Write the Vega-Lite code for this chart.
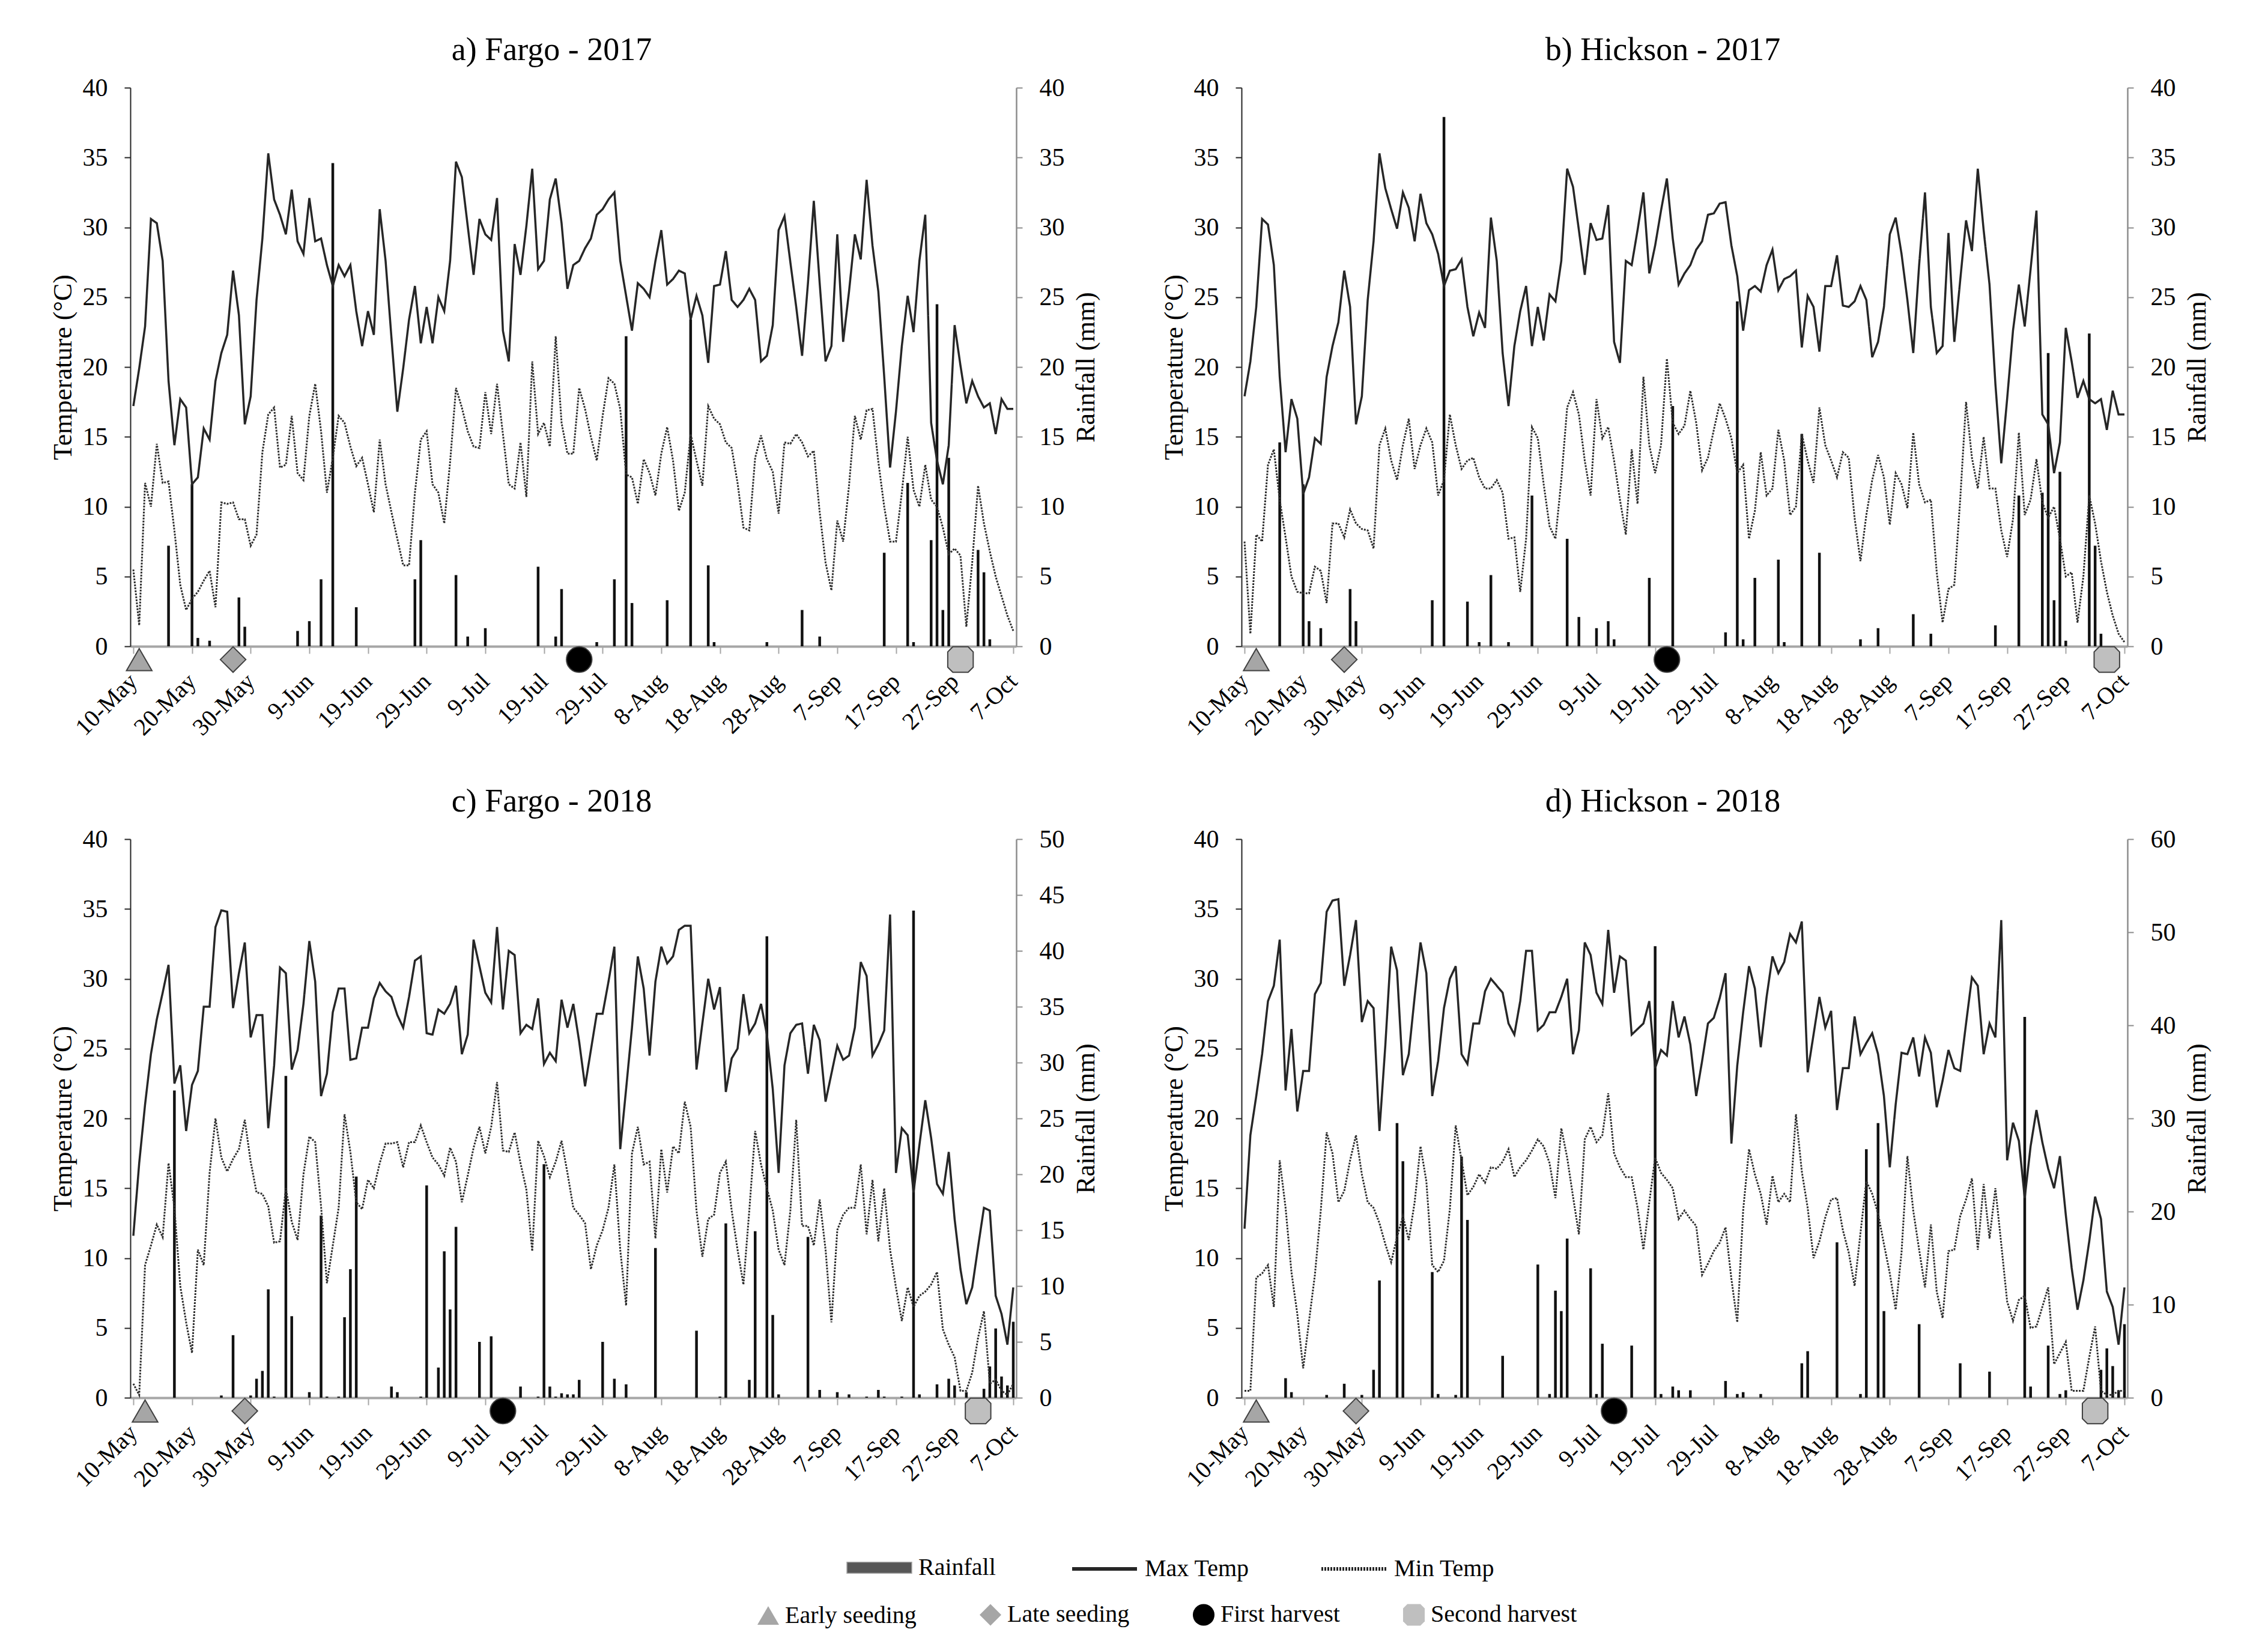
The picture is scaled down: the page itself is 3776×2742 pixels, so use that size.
{
"$schema": "https://vega.github.io/schema/vega-lite/v6.json",
"background": "white",
"padding": {"left": 83, "top": 57, "right": 30, "bottom": 20},
"datasets": {
"ta": [{"d":0,"hi":17.2,"lo":5.5},{"d":1,"hi":19.9,"lo":1.5},{"d":2,"hi":22.9,"lo":11.7},{"d":3,"hi":30.6,"lo":10.0},{"d":4,"hi":30.3,"lo":14.5},{"d":5,"hi":27.6,"lo":11.7},{"d":6,"hi":19.0,"lo":11.8},{"d":7,"hi":14.4,"lo":8.3},{"d":8,"hi":17.7,"lo":4.4},{"d":9,"hi":17.1,"lo":2.6},{"d":10,"hi":11.6,"lo":3.4},{"d":11,"hi":12.1,"lo":3.9},{"d":12,"hi":15.6,"lo":4.7},{"d":13,"hi":14.8,"lo":5.4},{"d":14,"hi":19.0,"lo":2.8},{"d":15,"hi":21.0,"lo":10.3},{"d":16,"hi":22.3,"lo":10.2},{"d":17,"hi":26.9,"lo":10.3},{"d":18,"hi":23.7,"lo":9.1},{"d":19,"hi":15.9,"lo":9.1},{"d":20,"hi":17.9,"lo":7.2},{"d":21,"hi":24.8,"lo":8.0},{"d":22,"hi":29.2,"lo":13.9},{"d":23,"hi":35.3,"lo":16.6},{"d":24,"hi":32.0,"lo":17.1},{"d":25,"hi":30.9,"lo":12.8},{"d":26,"hi":29.5,"lo":13.0},{"d":27,"hi":32.7,"lo":16.5},{"d":28,"hi":29.0,"lo":12.4},{"d":29,"hi":28.1,"lo":11.9},{"d":30,"hi":32.1,"lo":16.5},{"d":31,"hi":29.0,"lo":18.8},{"d":32,"hi":29.2,"lo":15.4},{"d":33,"hi":27.3,"lo":11.0},{"d":34,"hi":25.8,"lo":13.5},{"d":35,"hi":27.3,"lo":16.5},{"d":36,"hi":26.5,"lo":16.0},{"d":37,"hi":27.3,"lo":14.3},{"d":38,"hi":24.0,"lo":12.9},{"d":39,"hi":21.5,"lo":13.5},{"d":40,"hi":24.0,"lo":11.6},{"d":41,"hi":22.3,"lo":9.6},{"d":42,"hi":31.3,"lo":14.8},{"d":43,"hi":27.6,"lo":11.6},{"d":44,"hi":22.1,"lo":9.6},{"d":45,"hi":16.8,"lo":7.7},{"d":46,"hi":19.9,"lo":5.8},{"d":47,"hi":23.4,"lo":5.8},{"d":48,"hi":25.8,"lo":11.0},{"d":49,"hi":21.7,"lo":14.8},{"d":50,"hi":24.3,"lo":15.4},{"d":51,"hi":21.7,"lo":11.6},{"d":52,"hi":25.0,"lo":11.0},{"d":53,"hi":24.0,"lo":8.8},{"d":54,"hi":27.6,"lo":13.2},{"d":55,"hi":34.7,"lo":18.5},{"d":56,"hi":33.6,"lo":17.1},{"d":57,"hi":30.1,"lo":15.4},{"d":58,"hi":26.6,"lo":14.3},{"d":59,"hi":30.6,"lo":14.2},{"d":60,"hi":29.5,"lo":18.2},{"d":61,"hi":29.1,"lo":15.2},{"d":62,"hi":32.1,"lo":18.8},{"d":63,"hi":22.6,"lo":15.2},{"d":64,"hi":20.4,"lo":11.6},{"d":65,"hi":28.8,"lo":11.3},{"d":66,"hi":26.6,"lo":14.6},{"d":67,"hi":30.1,"lo":10.7},{"d":68,"hi":34.2,"lo":20.4},{"d":69,"hi":27.0,"lo":15.2},{"d":70,"hi":27.6,"lo":16.0},{"d":71,"hi":32.0,"lo":14.3},{"d":72,"hi":33.5,"lo":22.2},{"d":73,"hi":30.3,"lo":16.0},{"d":74,"hi":25.6,"lo":13.8},{"d":75,"hi":27.3,"lo":13.8},{"d":76,"hi":27.6,"lo":18.5},{"d":77,"hi":28.5,"lo":17.0},{"d":78,"hi":29.2,"lo":15.0},{"d":79,"hi":30.9,"lo":13.3},{"d":80,"hi":31.3,"lo":16.5},{"d":81,"hi":32.0,"lo":19.2},{"d":82,"hi":32.5,"lo":18.8},{"d":83,"hi":27.6,"lo":17.0},{"d":84,"hi":25.1,"lo":12.3},{"d":85,"hi":22.6,"lo":12.1},{"d":86,"hi":26.0,"lo":10.2},{"d":87,"hi":25.6,"lo":13.4},{"d":88,"hi":25.0,"lo":12.4},{"d":89,"hi":27.6,"lo":10.8},{"d":90,"hi":29.8,"lo":13.8},{"d":91,"hi":25.9,"lo":15.7},{"d":92,"hi":26.3,"lo":13.3},{"d":93,"hi":26.9,"lo":9.7},{"d":94,"hi":26.7,"lo":11.0},{"d":95,"hi":23.4,"lo":15.2},{"d":96,"hi":25.1,"lo":13.3},{"d":97,"hi":23.7,"lo":11.5},{"d":98,"hi":20.3,"lo":17.2},{"d":99,"hi":25.8,"lo":16.3},{"d":100,"hi":25.9,"lo":15.9},{"d":101,"hi":28.3,"lo":14.6},{"d":102,"hi":24.8,"lo":14.2},{"d":103,"hi":24.3,"lo":11.7},{"d":104,"hi":24.8,"lo":8.5},{"d":105,"hi":25.6,"lo":8.3},{"d":106,"hi":24.8,"lo":13.5},{"d":107,"hi":20.4,"lo":15.1},{"d":108,"hi":20.8,"lo":13.4},{"d":109,"hi":23.0,"lo":12.5},{"d":110,"hi":29.8,"lo":9.5},{"d":111,"hi":30.8,"lo":14.6},{"d":112,"hi":27.5,"lo":14.5},{"d":113,"hi":24.3,"lo":15.2},{"d":114,"hi":20.8,"lo":14.6},{"d":115,"hi":26.0,"lo":13.6},{"d":116,"hi":31.9,"lo":14.0},{"d":117,"hi":26.0,"lo":9.6},{"d":118,"hi":20.4,"lo":6.0},{"d":119,"hi":21.5,"lo":4.0},{"d":120,"hi":29.5,"lo":9.0},{"d":121,"hi":21.8,"lo":7.5},{"d":122,"hi":25.4,"lo":11.5},{"d":123,"hi":29.5,"lo":16.5},{"d":124,"hi":27.7,"lo":14.8},{"d":125,"hi":33.4,"lo":16.9},{"d":126,"hi":28.7,"lo":17.0},{"d":127,"hi":25.4,"lo":13.2},{"d":128,"hi":19.3,"lo":10.0},{"d":129,"hi":12.8,"lo":7.5},{"d":130,"hi":16.8,"lo":7.5},{"d":131,"hi":21.5,"lo":11.0},{"d":132,"hi":25.1,"lo":15.0},{"d":133,"hi":22.5,"lo":11.2},{"d":134,"hi":27.6,"lo":10.0},{"d":135,"hi":30.9,"lo":13.0},{"d":136,"hi":16.0,"lo":10.5},{"d":137,"hi":13.3,"lo":10.0},{"d":138,"hi":11.6,"lo":8.5},{"d":139,"hi":14.4,"lo":6.6},{"d":140,"hi":23.0,"lo":7.0},{"d":141,"hi":20.1,"lo":6.5},{"d":142,"hi":17.4,"lo":1.4},{"d":143,"hi":19.0,"lo":6.0},{"d":144,"hi":17.9,"lo":11.5},{"d":145,"hi":17.1,"lo":8.8},{"d":146,"hi":17.4,"lo":6.8},{"d":147,"hi":15.2,"lo":5.0},{"d":148,"hi":17.7,"lo":3.6},{"d":149,"hi":17.0,"lo":2.2},{"d":150,"hi":17.0,"lo":1.1}],
"tb": [{"d":0,"hi":17.9,"lo":7.5},{"d":1,"hi":20.4,"lo":0.9},{"d":2,"hi":24.3,"lo":8.0},{"d":3,"hi":30.6,"lo":7.5},{"d":4,"hi":30.2,"lo":13.0},{"d":5,"hi":27.3,"lo":14.1},{"d":6,"hi":19.3,"lo":10.5},{"d":7,"hi":13.9,"lo":7.8},{"d":8,"hi":17.7,"lo":5.0},{"d":9,"hi":16.3,"lo":3.9},{"d":10,"hi":10.9,"lo":3.8},{"d":11,"hi":12.1,"lo":3.8},{"d":12,"hi":14.9,"lo":5.7},{"d":13,"hi":14.5,"lo":5.4},{"d":14,"hi":19.3,"lo":3.1},{"d":15,"hi":21.5,"lo":8.8},{"d":16,"hi":23.2,"lo":8.8},{"d":17,"hi":26.9,"lo":7.8},{"d":18,"hi":24.3,"lo":9.8},{"d":19,"hi":15.9,"lo":8.8},{"d":20,"hi":17.9,"lo":8.4},{"d":21,"hi":24.8,"lo":8.3},{"d":22,"hi":29.0,"lo":7.0},{"d":23,"hi":35.3,"lo":14.4},{"d":24,"hi":32.8,"lo":15.6},{"d":25,"hi":31.3,"lo":13.3},{"d":26,"hi":29.9,"lo":11.9},{"d":27,"hi":32.5,"lo":14.4},{"d":28,"hi":31.4,"lo":16.3},{"d":29,"hi":29.0,"lo":12.7},{"d":30,"hi":32.4,"lo":14.4},{"d":31,"hi":30.3,"lo":15.6},{"d":32,"hi":29.5,"lo":14.6},{"d":33,"hi":28.1,"lo":10.8},{"d":34,"hi":25.8,"lo":11.9},{"d":35,"hi":26.9,"lo":16.6},{"d":36,"hi":27.0,"lo":14.4},{"d":37,"hi":27.7,"lo":12.7},{"d":38,"hi":24.3,"lo":13.3},{"d":39,"hi":22.2,"lo":13.5},{"d":40,"hi":23.9,"lo":12.1},{"d":41,"hi":22.8,"lo":11.3},{"d":42,"hi":30.7,"lo":11.3},{"d":43,"hi":27.6,"lo":11.9},{"d":44,"hi":21.0,"lo":11.0},{"d":45,"hi":17.2,"lo":7.7},{"d":46,"hi":21.5,"lo":7.8},{"d":47,"hi":24.0,"lo":3.9},{"d":48,"hi":25.8,"lo":7.7},{"d":49,"hi":21.5,"lo":15.7},{"d":50,"hi":24.3,"lo":14.9},{"d":51,"hi":21.9,"lo":11.6},{"d":52,"hi":25.2,"lo":8.6},{"d":53,"hi":24.7,"lo":7.7},{"d":54,"hi":27.6,"lo":11.9},{"d":55,"hi":34.2,"lo":17.1},{"d":56,"hi":32.9,"lo":18.2},{"d":57,"hi":29.8,"lo":16.6},{"d":58,"hi":26.6,"lo":13.3},{"d":59,"hi":30.3,"lo":10.8},{"d":60,"hi":29.1,"lo":17.7},{"d":61,"hi":29.2,"lo":14.9},{"d":62,"hi":31.6,"lo":15.7},{"d":63,"hi":21.8,"lo":13.3},{"d":64,"hi":20.3,"lo":10.5},{"d":65,"hi":27.6,"lo":8.0},{"d":66,"hi":27.3,"lo":14.1},{"d":67,"hi":29.8,"lo":10.2},{"d":68,"hi":32.5,"lo":19.3},{"d":69,"hi":26.7,"lo":14.4},{"d":70,"hi":28.7,"lo":12.4},{"d":71,"hi":31.2,"lo":14.4},{"d":72,"hi":33.5,"lo":20.6},{"d":73,"hi":29.2,"lo":16.0},{"d":74,"hi":25.9,"lo":15.2},{"d":75,"hi":26.7,"lo":15.8},{"d":76,"hi":27.3,"lo":18.3},{"d":77,"hi":28.4,"lo":16.0},{"d":78,"hi":29.0,"lo":12.6},{"d":79,"hi":30.9,"lo":13.5},{"d":80,"hi":31.0,"lo":15.5},{"d":81,"hi":31.7,"lo":17.4},{"d":82,"hi":31.8,"lo":16.3},{"d":83,"hi":28.7,"lo":14.9},{"d":84,"hi":26.5,"lo":12.4},{"d":85,"hi":22.6,"lo":13.0},{"d":86,"hi":25.5,"lo":7.7},{"d":87,"hi":25.8,"lo":9.7},{"d":88,"hi":25.4,"lo":13.9},{"d":89,"hi":27.3,"lo":10.8},{"d":90,"hi":28.4,"lo":11.3},{"d":91,"hi":25.5,"lo":15.5},{"d":92,"hi":26.3,"lo":13.3},{"d":93,"hi":26.5,"lo":9.4},{"d":94,"hi":26.9,"lo":10.0},{"d":95,"hi":21.4,"lo":15.2},{"d":96,"hi":25.1,"lo":13.3},{"d":97,"hi":24.3,"lo":11.7},{"d":98,"hi":21.1,"lo":17.1},{"d":99,"hi":25.8,"lo":14.4},{"d":100,"hi":25.8,"lo":13.3},{"d":101,"hi":28.0,"lo":12.1},{"d":102,"hi":24.4,"lo":13.9},{"d":103,"hi":24.3,"lo":13.5},{"d":104,"hi":24.7,"lo":9.2},{"d":105,"hi":25.8,"lo":6.1},{"d":106,"hi":24.8,"lo":9.4},{"d":107,"hi":20.7,"lo":11.9},{"d":108,"hi":21.8,"lo":13.7},{"d":109,"hi":24.3,"lo":12.1},{"d":110,"hi":29.5,"lo":8.7},{"d":111,"hi":30.7,"lo":12.4},{"d":112,"hi":28.1,"lo":11.6},{"d":113,"hi":24.8,"lo":9.9},{"d":114,"hi":21.0,"lo":15.3},{"d":115,"hi":27.3,"lo":11.6},{"d":116,"hi":32.5,"lo":10.3},{"d":117,"hi":24.3,"lo":10.5},{"d":118,"hi":21.0,"lo":5.3},{"d":119,"hi":21.5,"lo":1.7},{"d":120,"hi":29.6,"lo":4.1},{"d":121,"hi":21.8,"lo":4.4},{"d":122,"hi":26.2,"lo":10.5},{"d":123,"hi":30.5,"lo":17.5},{"d":124,"hi":28.3,"lo":13.5},{"d":125,"hi":34.2,"lo":11.3},{"d":126,"hi":29.8,"lo":15.0},{"d":127,"hi":25.9,"lo":11.3},{"d":128,"hi":18.8,"lo":11.3},{"d":129,"hi":13.1,"lo":8.3},{"d":130,"hi":17.7,"lo":6.4},{"d":131,"hi":22.6,"lo":9.1},{"d":132,"hi":25.9,"lo":15.3},{"d":133,"hi":22.9,"lo":9.4},{"d":134,"hi":27.0,"lo":10.5},{"d":135,"hi":31.2,"lo":13.4},{"d":136,"hi":16.6,"lo":10.3},{"d":137,"hi":15.9,"lo":9.2},{"d":138,"hi":12.4,"lo":10.0},{"d":139,"hi":14.6,"lo":7.7},{"d":140,"hi":22.8,"lo":5.0},{"d":141,"hi":20.4,"lo":5.3},{"d":142,"hi":17.8,"lo":1.7},{"d":143,"hi":19.0,"lo":5.0},{"d":144,"hi":17.7,"lo":10.8},{"d":145,"hi":17.4,"lo":8.8},{"d":146,"hi":17.7,"lo":6.1},{"d":147,"hi":15.5,"lo":3.9},{"d":148,"hi":18.3,"lo":2.2},{"d":149,"hi":16.6,"lo":0.9},{"d":150,"hi":16.6,"lo":0.3}],
"tc": [{"d":0,"hi":11.6,"lo":1.0},{"d":1,"hi":16.8,"lo":0.2},{"d":2,"hi":21.0,"lo":9.5},{"d":3,"hi":24.6,"lo":10.9},{"d":4,"hi":27.1,"lo":12.4},{"d":5,"hi":29.0,"lo":11.5},{"d":6,"hi":31.0,"lo":16.8},{"d":7,"hi":22.5,"lo":13.6},{"d":8,"hi":23.8,"lo":8.0},{"d":9,"hi":19.1,"lo":5.4},{"d":10,"hi":22.4,"lo":3.2},{"d":11,"hi":23.4,"lo":10.6},{"d":12,"hi":28.0,"lo":9.5},{"d":13,"hi":28.0,"lo":16.1},{"d":14,"hi":33.7,"lo":20.0},{"d":15,"hi":34.9,"lo":17.2},{"d":16,"hi":34.8,"lo":16.2},{"d":17,"hi":27.9,"lo":17.1},{"d":18,"hi":30.4,"lo":17.8},{"d":19,"hi":32.6,"lo":19.9},{"d":20,"hi":25.8,"lo":16.9},{"d":21,"hi":27.4,"lo":14.7},{"d":22,"hi":27.4,"lo":14.6},{"d":23,"hi":19.3,"lo":13.7},{"d":24,"hi":23.8,"lo":11.1},{"d":25,"hi":30.8,"lo":11.2},{"d":26,"hi":30.4,"lo":15.0},{"d":27,"hi":23.5,"lo":12.6},{"d":28,"hi":24.9,"lo":11.3},{"d":29,"hi":28.2,"lo":16.0},{"d":30,"hi":32.7,"lo":18.7},{"d":31,"hi":29.8,"lo":18.3},{"d":32,"hi":21.6,"lo":13.7},{"d":33,"hi":23.2,"lo":8.2},{"d":34,"hi":27.6,"lo":10.9},{"d":35,"hi":29.3,"lo":13.6},{"d":36,"hi":29.3,"lo":20.3},{"d":37,"hi":24.2,"lo":17.6},{"d":38,"hi":24.3,"lo":14.0},{"d":39,"hi":26.5,"lo":13.5},{"d":40,"hi":26.5,"lo":15.6},{"d":41,"hi":28.6,"lo":15.0},{"d":42,"hi":29.7,"lo":16.8},{"d":43,"hi":29.1,"lo":18.2},{"d":44,"hi":28.7,"lo":18.2},{"d":45,"hi":27.4,"lo":18.3},{"d":46,"hi":26.5,"lo":16.5},{"d":47,"hi":28.7,"lo":18.3},{"d":48,"hi":31.3,"lo":18.3},{"d":49,"hi":31.6,"lo":19.5},{"d":50,"hi":26.1,"lo":18.3},{"d":51,"hi":26.0,"lo":17.2},{"d":52,"hi":27.8,"lo":16.7},{"d":53,"hi":27.5,"lo":15.9},{"d":54,"hi":28.2,"lo":17.9},{"d":55,"hi":29.5,"lo":16.9},{"d":56,"hi":24.6,"lo":14.0},{"d":57,"hi":26.0,"lo":15.9},{"d":58,"hi":32.8,"lo":17.9},{"d":59,"hi":30.9,"lo":19.4},{"d":60,"hi":29.0,"lo":17.5},{"d":61,"hi":28.3,"lo":19.4},{"d":62,"hi":33.7,"lo":22.6},{"d":63,"hi":27.8,"lo":17.7},{"d":64,"hi":32.0,"lo":17.6},{"d":65,"hi":31.7,"lo":19.0},{"d":66,"hi":26.1,"lo":16.8},{"d":67,"hi":26.7,"lo":14.9},{"d":68,"hi":26.4,"lo":10.5},{"d":69,"hi":28.6,"lo":18.4},{"d":70,"hi":23.9,"lo":17.3},{"d":71,"hi":24.7,"lo":15.8},{"d":72,"hi":24.1,"lo":16.9},{"d":73,"hi":28.5,"lo":18.4},{"d":74,"hi":26.5,"lo":16.1},{"d":75,"hi":28.2,"lo":13.6},{"d":76,"hi":25.5,"lo":13.1},{"d":77,"hi":22.3,"lo":12.5},{"d":78,"hi":24.9,"lo":9.2},{"d":79,"hi":27.5,"lo":10.9},{"d":80,"hi":27.5,"lo":12.0},{"d":81,"hi":29.8,"lo":13.6},{"d":82,"hi":32.3,"lo":16.7},{"d":83,"hi":17.8,"lo":10.6},{"d":84,"hi":22.1,"lo":6.6},{"d":85,"hi":26.5,"lo":17.5},{"d":86,"hi":31.6,"lo":19.4},{"d":87,"hi":29.3,"lo":16.7},{"d":88,"hi":24.5,"lo":16.9},{"d":89,"hi":29.8,"lo":11.4},{"d":90,"hi":32.3,"lo":17.8},{"d":91,"hi":31.1,"lo":14.7},{"d":92,"hi":31.6,"lo":18.0},{"d":93,"hi":33.5,"lo":17.5},{"d":94,"hi":33.8,"lo":21.2},{"d":95,"hi":33.8,"lo":19.4},{"d":96,"hi":23.5,"lo":13.4},{"d":97,"hi":26.8,"lo":10.1},{"d":98,"hi":30.0,"lo":12.8},{"d":99,"hi":27.8,"lo":13.1},{"d":100,"hi":29.4,"lo":16.1},{"d":101,"hi":21.9,"lo":16.9},{"d":102,"hi":24.3,"lo":13.4},{"d":103,"hi":25.0,"lo":10.6},{"d":104,"hi":28.9,"lo":8.1},{"d":105,"hi":26.1,"lo":13.4},{"d":106,"hi":26.8,"lo":19.1},{"d":107,"hi":28.2,"lo":16.7},{"d":108,"hi":26.0,"lo":15.0},{"d":109,"hi":22.1,"lo":13.4},{"d":110,"hi":16.1,"lo":10.6},{"d":111,"hi":23.8,"lo":9.5},{"d":112,"hi":26.1,"lo":13.4},{"d":113,"hi":26.7,"lo":19.9},{"d":114,"hi":26.8,"lo":12.3},{"d":115,"hi":23.2,"lo":12.3},{"d":116,"hi":26.7,"lo":10.9},{"d":117,"hi":25.6,"lo":14.2},{"d":118,"hi":21.2,"lo":10.6},{"d":119,"hi":23.2,"lo":5.4},{"d":120,"hi":25.2,"lo":12.0},{"d":121,"hi":24.2,"lo":13.1},{"d":122,"hi":24.5,"lo":13.6},{"d":123,"hi":26.5,"lo":13.6},{"d":124,"hi":31.2,"lo":16.7},{"d":125,"hi":30.2,"lo":11.7},{"d":126,"hi":24.5,"lo":15.6},{"d":127,"hi":25.3,"lo":11.2},{"d":128,"hi":26.3,"lo":15.0},{"d":129,"hi":34.6,"lo":10.6},{"d":130,"hi":16.1,"lo":7.9},{"d":131,"hi":19.3,"lo":5.5},{"d":132,"hi":18.8,"lo":7.9},{"d":133,"hi":14.7,"lo":6.5},{"d":134,"hi":18.1,"lo":7.3},{"d":135,"hi":21.3,"lo":7.6},{"d":136,"hi":18.6,"lo":8.1},{"d":137,"hi":15.3,"lo":9.0},{"d":138,"hi":14.6,"lo":4.9},{"d":139,"hi":17.6,"lo":3.8},{"d":140,"hi":12.8,"lo":2.9},{"d":141,"hi":9.2,"lo":0.5},{"d":142,"hi":6.7,"lo":0.5},{"d":143,"hi":7.9,"lo":1.8},{"d":144,"hi":10.8,"lo":4.3},{"d":145,"hi":13.6,"lo":6.2},{"d":146,"hi":13.4,"lo":1.0},{"d":147,"hi":7.3,"lo":1.3},{"d":148,"hi":6.0,"lo":0.5},{"d":149,"hi":3.8,"lo":0.2},{"d":150,"hi":7.9,"lo":1.0}],
"td": [{"d":0,"hi":12.1,"lo":0.5},{"d":1,"hi":18.8,"lo":0.5},{"d":2,"hi":21.6,"lo":8.6},{"d":3,"hi":24.6,"lo":8.9},{"d":4,"hi":28.4,"lo":9.5},{"d":5,"hi":29.5,"lo":6.5},{"d":6,"hi":32.8,"lo":17.0},{"d":7,"hi":22.0,"lo":13.6},{"d":8,"hi":26.4,"lo":9.0},{"d":9,"hi":20.5,"lo":6.0},{"d":10,"hi":23.4,"lo":2.1},{"d":11,"hi":23.4,"lo":5.5},{"d":12,"hi":28.9,"lo":8.8},{"d":13,"hi":29.7,"lo":13.4},{"d":14,"hi":34.8,"lo":19.0},{"d":15,"hi":35.6,"lo":17.5},{"d":16,"hi":35.7,"lo":14.0},{"d":17,"hi":29.5,"lo":14.8},{"d":18,"hi":31.7,"lo":17.0},{"d":19,"hi":34.2,"lo":18.8},{"d":20,"hi":26.9,"lo":16.0},{"d":21,"hi":28.4,"lo":14.0},{"d":22,"hi":27.9,"lo":13.6},{"d":23,"hi":19.1,"lo":12.5},{"d":24,"hi":25.2,"lo":11.0},{"d":25,"hi":32.3,"lo":9.7},{"d":26,"hi":30.6,"lo":11.5},{"d":27,"hi":23.1,"lo":13.0},{"d":28,"hi":24.6,"lo":11.3},{"d":29,"hi":28.7,"lo":14.0},{"d":30,"hi":32.6,"lo":18.0},{"d":31,"hi":30.4,"lo":15.5},{"d":32,"hi":21.6,"lo":9.5},{"d":33,"hi":24.1,"lo":9.0},{"d":34,"hi":27.9,"lo":9.8},{"d":35,"hi":30.0,"lo":13.5},{"d":36,"hi":30.9,"lo":19.5},{"d":37,"hi":24.6,"lo":17.0},{"d":38,"hi":23.9,"lo":14.5},{"d":39,"hi":26.8,"lo":15.1},{"d":40,"hi":26.8,"lo":16.0},{"d":41,"hi":29.1,"lo":15.4},{"d":42,"hi":30.0,"lo":16.5},{"d":43,"hi":29.5,"lo":16.4},{"d":44,"hi":29.0,"lo":16.9},{"d":45,"hi":26.8,"lo":17.8},{"d":46,"hi":26.0,"lo":15.8},{"d":47,"hi":28.4,"lo":16.5},{"d":48,"hi":32.0,"lo":17.0},{"d":49,"hi":32.0,"lo":17.7},{"d":50,"hi":26.3,"lo":18.5},{"d":51,"hi":26.7,"lo":18.0},{"d":52,"hi":27.6,"lo":16.8},{"d":53,"hi":27.6,"lo":14.3},{"d":54,"hi":28.7,"lo":19.3},{"d":55,"hi":30.0,"lo":17.2},{"d":56,"hi":24.6,"lo":14.4},{"d":57,"hi":26.3,"lo":11.7},{"d":58,"hi":32.6,"lo":18.5},{"d":59,"hi":31.7,"lo":19.4},{"d":60,"hi":29.0,"lo":18.3},{"d":61,"hi":28.2,"lo":18.8},{"d":62,"hi":33.5,"lo":21.8},{"d":63,"hi":29.0,"lo":17.5},{"d":64,"hi":31.6,"lo":16.5},{"d":65,"hi":31.3,"lo":15.8},{"d":66,"hi":26.0,"lo":15.8},{"d":67,"hi":26.4,"lo":13.6},{"d":68,"hi":26.8,"lo":10.6},{"d":69,"hi":28.4,"lo":14.0},{"d":70,"hi":23.6,"lo":17.2},{"d":71,"hi":24.9,"lo":16.1},{"d":72,"hi":24.5,"lo":15.6},{"d":73,"hi":28.4,"lo":15.0},{"d":74,"hi":25.8,"lo":12.8},{"d":75,"hi":27.3,"lo":13.4},{"d":76,"hi":25.3,"lo":12.8},{"d":77,"hi":21.6,"lo":12.3},{"d":78,"hi":24.1,"lo":8.8},{"d":79,"hi":26.8,"lo":9.6},{"d":80,"hi":27.2,"lo":10.5},{"d":81,"hi":28.6,"lo":11.1},{"d":82,"hi":30.4,"lo":12.2},{"d":83,"hi":18.2,"lo":8.5},{"d":84,"hi":23.8,"lo":5.4},{"d":85,"hi":27.6,"lo":13.4},{"d":86,"hi":30.9,"lo":17.8},{"d":87,"hi":29.3,"lo":16.0},{"d":88,"hi":25.1,"lo":14.6},{"d":89,"hi":28.7,"lo":12.4},{"d":90,"hi":31.6,"lo":15.9},{"d":91,"hi":30.4,"lo":14.0},{"d":92,"hi":31.2,"lo":14.6},{"d":93,"hi":33.2,"lo":14.0},{"d":94,"hi":32.6,"lo":20.3},{"d":95,"hi":34.1,"lo":16.2},{"d":96,"hi":23.3,"lo":13.6},{"d":97,"hi":26.0,"lo":10.0},{"d":98,"hi":28.7,"lo":11.2},{"d":99,"hi":26.5,"lo":12.9},{"d":100,"hi":27.7,"lo":14.2},{"d":101,"hi":20.6,"lo":14.3},{"d":102,"hi":23.6,"lo":12.0},{"d":103,"hi":23.6,"lo":10.4},{"d":104,"hi":27.3,"lo":8.0},{"d":105,"hi":24.6,"lo":11.8},{"d":106,"hi":25.4,"lo":15.5},{"d":107,"hi":26.1,"lo":14.6},{"d":108,"hi":24.6,"lo":13.2},{"d":109,"hi":21.6,"lo":11.0},{"d":110,"hi":16.5,"lo":8.9},{"d":111,"hi":21.0,"lo":6.3},{"d":112,"hi":24.7,"lo":10.4},{"d":113,"hi":24.6,"lo":17.3},{"d":114,"hi":25.8,"lo":13.4},{"d":115,"hi":23.0,"lo":10.6},{"d":116,"hi":25.8,"lo":7.9},{"d":117,"hi":24.7,"lo":12.4},{"d":118,"hi":20.8,"lo":7.6},{"d":119,"hi":22.7,"lo":5.7},{"d":120,"hi":24.9,"lo":10.5},{"d":121,"hi":23.6,"lo":10.6},{"d":122,"hi":23.4,"lo":13.0},{"d":123,"hi":26.8,"lo":14.2},{"d":124,"hi":30.1,"lo":15.7},{"d":125,"hi":29.5,"lo":10.6},{"d":126,"hi":24.6,"lo":15.3},{"d":127,"hi":26.8,"lo":11.4},{"d":128,"hi":25.8,"lo":15.0},{"d":129,"hi":34.2,"lo":11.0},{"d":130,"hi":17.0,"lo":6.9},{"d":131,"hi":19.7,"lo":5.5},{"d":132,"hi":18.4,"lo":7.0},{"d":133,"hi":14.3,"lo":7.3},{"d":134,"hi":18.0,"lo":5.0},{"d":135,"hi":20.6,"lo":5.1},{"d":136,"hi":18.3,"lo":6.5},{"d":137,"hi":16.4,"lo":7.9},{"d":138,"hi":15.0,"lo":2.4},{"d":139,"hi":17.3,"lo":3.2},{"d":140,"hi":13.1,"lo":4.0},{"d":141,"hi":9.3,"lo":0.5},{"d":142,"hi":6.3,"lo":0.5},{"d":143,"hi":8.4,"lo":0.5},{"d":144,"hi":11.2,"lo":2.9},{"d":145,"hi":14.4,"lo":5.1},{"d":146,"hi":12.8,"lo":0.5},{"d":147,"hi":7.6,"lo":0.2},{"d":148,"hi":6.5,"lo":0.2},{"d":149,"hi":3.8,"lo":0.5},{"d":150,"hi":7.9,"lo":0.5}],
"ra": [{"d":6,"mm":7.2},{"d":10,"mm":11.6},{"d":11,"mm":0.6},{"d":13,"mm":0.4},{"d":18,"mm":3.5},{"d":19,"mm":1.4},{"d":28,"mm":1.1},{"d":30,"mm":1.8},{"d":32,"mm":4.8},{"d":34,"mm":34.6},{"d":38,"mm":2.8},{"d":48,"mm":4.8},{"d":49,"mm":7.6},{"d":55,"mm":5.1},{"d":57,"mm":0.7},{"d":60,"mm":1.3},{"d":69,"mm":5.7},{"d":72,"mm":0.7},{"d":73,"mm":4.1},{"d":79,"mm":0.3},{"d":82,"mm":4.8},{"d":84,"mm":22.2},{"d":85,"mm":3.1},{"d":91,"mm":3.3},{"d":95,"mm":23.4},{"d":98,"mm":5.8},{"d":99,"mm":0.3},{"d":108,"mm":0.3},{"d":114,"mm":2.6},{"d":117,"mm":0.7},{"d":128,"mm":6.7},{"d":132,"mm":11.7},{"d":133,"mm":0.3},{"d":136,"mm":7.6},{"d":137,"mm":24.5},{"d":138,"mm":2.6},{"d":139,"mm":13.5},{"d":144,"mm":6.9},{"d":145,"mm":5.3},{"d":146,"mm":0.5}],
"rb": [{"d":6,"mm":14.6},{"d":10,"mm":11.6},{"d":11,"mm":1.8},{"d":13,"mm":1.3},{"d":18,"mm":4.1},{"d":19,"mm":1.8},{"d":32,"mm":3.3},{"d":34,"mm":37.9},{"d":38,"mm":3.2},{"d":40,"mm":0.3},{"d":42,"mm":5.1},{"d":45,"mm":0.3},{"d":49,"mm":10.8},{"d":55,"mm":7.7},{"d":57,"mm":2.1},{"d":60,"mm":1.3},{"d":62,"mm":1.8},{"d":63,"mm":0.5},{"d":69,"mm":4.9},{"d":73,"mm":17.2},{"d":82,"mm":1.0},{"d":84,"mm":24.7},{"d":85,"mm":0.5},{"d":87,"mm":4.9},{"d":91,"mm":6.2},{"d":92,"mm":0.3},{"d":95,"mm":15.2},{"d":98,"mm":6.7},{"d":105,"mm":0.5},{"d":108,"mm":1.3},{"d":114,"mm":2.3},{"d":117,"mm":0.9},{"d":128,"mm":1.5},{"d":132,"mm":10.8},{"d":136,"mm":11.0},{"d":137,"mm":21.0},{"d":138,"mm":3.3},{"d":139,"mm":12.5},{"d":140,"mm":0.4},{"d":144,"mm":22.4},{"d":145,"mm":7.2},{"d":146,"mm":0.9}],
"rc": [{"d":7,"mm":27.5},{"d":15,"mm":0.2},{"d":17,"mm":5.6},{"d":20,"mm":0.2},{"d":21,"mm":1.7},{"d":22,"mm":2.4},{"d":23,"mm":9.7},{"d":24,"mm":0.1},{"d":26,"mm":28.8},{"d":27,"mm":7.3},{"d":30,"mm":0.5},{"d":32,"mm":16.3},{"d":33,"mm":0.1},{"d":35,"mm":0.1},{"d":36,"mm":7.2},{"d":37,"mm":11.5},{"d":38,"mm":19.8},{"d":44,"mm":1.0},{"d":45,"mm":0.5},{"d":49,"mm":0.1},{"d":50,"mm":19.0},{"d":52,"mm":2.7},{"d":53,"mm":13.1},{"d":54,"mm":7.9},{"d":55,"mm":15.3},{"d":59,"mm":5.0},{"d":61,"mm":5.5},{"d":66,"mm":1.0},{"d":69,"mm":0.1},{"d":70,"mm":20.9},{"d":71,"mm":1.0},{"d":72,"mm":0.1},{"d":73,"mm":0.4},{"d":74,"mm":0.3},{"d":75,"mm":0.3},{"d":76,"mm":1.6},{"d":80,"mm":5.0},{"d":82,"mm":1.7},{"d":84,"mm":1.2},{"d":89,"mm":13.4},{"d":96,"mm":6.0},{"d":100,"mm":0.1},{"d":101,"mm":15.6},{"d":105,"mm":1.6},{"d":106,"mm":14.9},{"d":108,"mm":41.3},{"d":109,"mm":7.4},{"d":110,"mm":0.3},{"d":115,"mm":14.4},{"d":117,"mm":0.7},{"d":120,"mm":0.5},{"d":122,"mm":0.3},{"d":125,"mm":0.1},{"d":127,"mm":0.7},{"d":128,"mm":0.1},{"d":131,"mm":0.1},{"d":133,"mm":43.6},{"d":134,"mm":0.3},{"d":137,"mm":1.2},{"d":139,"mm":1.7},{"d":140,"mm":1.1},{"d":142,"mm":0.5},{"d":145,"mm":0.8},{"d":146,"mm":2.8},{"d":147,"mm":6.2},{"d":148,"mm":1.9},{"d":149,"mm":1.1},{"d":150,"mm":6.8}],
"rd": [{"d":7,"mm":2.1},{"d":8,"mm":0.6},{"d":14,"mm":0.3},{"d":17,"mm":1.5},{"d":20,"mm":0.3},{"d":22,"mm":3.0},{"d":23,"mm":12.6},{"d":26,"mm":29.5},{"d":27,"mm":25.4},{"d":32,"mm":13.5},{"d":33,"mm":0.4},{"d":36,"mm":0.3},{"d":37,"mm":25.9},{"d":38,"mm":19.1},{"d":44,"mm":4.5},{"d":50,"mm":14.3},{"d":52,"mm":0.4},{"d":53,"mm":11.5},{"d":54,"mm":9.3},{"d":55,"mm":17.1},{"d":59,"mm":13.9},{"d":60,"mm":0.4},{"d":61,"mm":5.8},{"d":66,"mm":5.6},{"d":70,"mm":48.5},{"d":71,"mm":0.4},{"d":73,"mm":1.2},{"d":74,"mm":0.8},{"d":76,"mm":0.8},{"d":82,"mm":1.8},{"d":84,"mm":0.4},{"d":85,"mm":0.6},{"d":88,"mm":0.4},{"d":95,"mm":3.7},{"d":96,"mm":5.0},{"d":101,"mm":16.7},{"d":105,"mm":0.4},{"d":106,"mm":26.7},{"d":108,"mm":29.5},{"d":109,"mm":9.3},{"d":115,"mm":7.9},{"d":122,"mm":3.7},{"d":127,"mm":2.8},{"d":133,"mm":40.9},{"d":134,"mm":1.2},{"d":137,"mm":5.6},{"d":139,"mm":0.4},{"d":140,"mm":0.8},{"d":146,"mm":3.0},{"d":147,"mm":5.3},{"d":148,"mm":3.4},{"d":149,"mm":0.8},{"d":150,"mm":7.9}],
"ev": [{"p":"a","d":1,"ev":"Early seeding"},{"p":"a","d":17,"ev":"Late seeding"},{"p":"a","d":76,"ev":"First harvest"},{"p":"a","d":141,"ev":"Second harvest"},{"p":"b","d":2,"ev":"Early seeding"},{"p":"b","d":17,"ev":"Late seeding"},{"p":"b","d":72,"ev":"First harvest"},{"p":"b","d":147,"ev":"Second harvest"},{"p":"c","d":2,"ev":"Early seeding"},{"p":"c","d":19,"ev":"Late seeding"},{"p":"c","d":63,"ev":"First harvest"},{"p":"c","d":144,"ev":"Second harvest"},{"p":"d","d":2,"ev":"Early seeding"},{"p":"d","d":19,"ev":"Late seeding"},{"p":"d","d":63,"ev":"First harvest"},{"p":"d","d":145,"ev":"Second harvest"}]
},
"vconcat": [
{"hconcat": [
{
"title": {"text": "a) Fargo - 2017"},
"width": 1475, "height": 930,
"encoding": {"x": {"field": "d", "type": "quantitative", "scale": {"domain": [0,150], "nice": false, "zero": false}, "axis": {"values": [0,10,20,30,40,50,60,70,80,90,100,110,120,130,140,150], "labelExpr": "['10-May','20-May','30-May','9-Jun','19-Jun','29-Jun','9-Jul','19-Jul','29-Jul','8-Aug','18-Aug','28-Aug','7-Sep','17-Sep','27-Sep','7-Oct'][round(datum.value/10)]", "labelAngle": -45, "labelAlign": "right", "labelBaseline": "middle", "labelPadding": 40, "labelFontSize": 40, "labelOverlap": false, "labelFlush": false, "title": null, "domainColor": "#a6a6a6", "domainWidth": 4, "tickColor": "#a6a6a6", "tickWidth": 2, "tickSize": 12, "grid": false}}},
"layer": [
{"data": {"name": "ra"}, "mark": {"type": "bar", "width": 4.5}, "encoding": {"y": {"field": "mm", "type": "quantitative", "scale": {"domain": [0,40], "nice": false}, "axis": {"orient": "right", "title": "Rainfall (mm)", "titleAngle": -90, "titleBaseline": "top", "values": [0,5,10,15,20,25,30,35,40], "domainColor": "#8c8c8c", "tickColor": "#8c8c8c", "domainWidth": 2.5, "tickWidth": 2, "tickSize": 10, "labelPadding": 28, "titlePadding": 14, "grid": false}}, "color": {"datum": "Rainfall", "type": "nominal", "scale": {"domain": ["Rainfall"], "range": ["#111111"]}, "legend": {"orient": "none", "legendX": 1192, "legendY": 2409, "title": null, "symbolType": "M-1,-0.17H1V0.17H-1Z", "symbolSize": 11664, "symbolStrokeColor": "#808080", "symbolStrokeWidth": 1.5, "symbolOpacity": 0.7, "labelOffset": 10}}}},
{"layer": [
{"data": {"name": "ta"}, "mark": {"type": "line", "strokeWidth": 3.5, "color": "#262626"}, "encoding": {"y": {"field": "hi", "type": "quantitative", "scale": {"domain": [0,40], "nice": false}, "axis": {"orient": "left", "title": "Temperature (°C)", "values": [0,5,10,15,20,25,30,35,40], "domainColor": "#262626", "tickColor": "#262626", "domainWidth": 2, "tickWidth": 2, "tickSize": 10, "labelPadding": 28, "titlePadding": 10, "grid": false}}, "strokeDash": {"datum": "Max Temp", "type": "nominal", "scale": {"domain": ["Max Temp","Min Temp"], "range": [[1,0],[3,2]]}, "legend": {"orient": "none", "legendX": 1565, "legendY": 2409, "title": null, "direction": "horizontal", "symbolType": "stroke", "symbolSize": 11664, "symbolStrokeWidth": 6, "symbolStrokeColor": "#262626", "columnPadding": 108, "labelOffset": 10}}}},
{"data": {"name": "ta"}, "mark": {"type": "line", "strokeWidth": 3, "color": "#2e2e2e"}, "encoding": {"y": {"field": "lo", "type": "quantitative", "scale": {"domain": [0,40], "nice": false}, "axis": {"orient": "left", "title": "Temperature (°C)", "values": [0,5,10,15,20,25,30,35,40], "domainColor": "#262626", "tickColor": "#262626", "domainWidth": 2, "tickWidth": 2, "tickSize": 10, "labelPadding": 28, "titlePadding": 10, "grid": false}}, "strokeDash": {"datum": "Min Temp", "type": "nominal", "scale": {"domain": ["Max Temp","Min Temp"], "range": [[1,0],[3,2]]}, "legend": {"orient": "none", "legendX": 1565, "legendY": 2409, "title": null, "direction": "horizontal", "symbolType": "stroke", "symbolSize": 11664, "symbolStrokeWidth": 6, "symbolStrokeColor": "#262626", "columnPadding": 108, "labelOffset": 10}}}},
{"data": {"name": "ev"}, "transform": [{"filter": "datum.p === 'a'"}], "mark": {"type": "point", "filled": true, "size": 1800, "stroke": "#404040", "strokeWidth": 2, "opacity": 1}, "encoding": {"y": {"datum": -0.95, "type": "quantitative", "scale": {"domain": [0,40], "nice": false}, "axis": {"orient": "left", "title": "Temperature (°C)", "values": [0,5,10,15,20,25,30,35,40], "domainColor": "#262626", "tickColor": "#262626", "domainWidth": 2, "tickWidth": 2, "tickSize": 10, "labelPadding": 28, "titlePadding": 10, "grid": false}}, "shape": {"field": "ev", "type": "nominal", "scale": {"domain": ["Early seeding","Late seeding","First harvest","Second harvest"], "range": ["triangle-up","diamond","circle","M-0.6,-1L0.6,-1L1,-0.6L1,0.6L0.6,1L-0.6,1L-1,0.6L-1,-0.6Z"]}, "legend": {"orient": "none", "legendX": 1042, "legendY": 2522, "title": null, "direction": "horizontal", "symbolSize": 1300, "symbolStrokeColor": "#404040", "symbolStrokeWidth": 2, "columnPadding": 100, "labelOffset": 8}}, "fill": {"field": "ev", "type": "nominal", "scale": {"domain": ["Early seeding","Late seeding","First harvest","Second harvest"], "range": ["#a6a6a6","#a6a6a6","#000000","#bfbfbf"]}, "legend": {"orient": "none", "legendX": 1042, "legendY": 2522, "title": null, "direction": "horizontal", "symbolSize": 1300, "symbolStrokeColor": "#404040", "symbolStrokeWidth": 2, "columnPadding": 100, "labelOffset": 8}}}}
]}
],
"resolve": {"scale": {"y": "independent"}}
},
{
"title": {"text": "b) Hickson - 2017"},
"width": 1475, "height": 930,
"encoding": {"x": {"field": "d", "type": "quantitative", "scale": {"domain": [0,150], "nice": false, "zero": false}, "axis": {"values": [0,10,20,30,40,50,60,70,80,90,100,110,120,130,140,150], "labelExpr": "['10-May','20-May','30-May','9-Jun','19-Jun','29-Jun','9-Jul','19-Jul','29-Jul','8-Aug','18-Aug','28-Aug','7-Sep','17-Sep','27-Sep','7-Oct'][round(datum.value/10)]", "labelAngle": -45, "labelAlign": "right", "labelBaseline": "middle", "labelPadding": 40, "labelFontSize": 40, "labelOverlap": false, "labelFlush": false, "title": null, "domainColor": "#a6a6a6", "domainWidth": 4, "tickColor": "#a6a6a6", "tickWidth": 2, "tickSize": 12, "grid": false}}},
"layer": [
{"data": {"name": "rb"}, "mark": {"type": "bar", "width": 4.5}, "encoding": {"y": {"field": "mm", "type": "quantitative", "scale": {"domain": [0,40], "nice": false}, "axis": {"orient": "right", "title": "Rainfall (mm)", "titleAngle": -90, "titleBaseline": "top", "values": [0,5,10,15,20,25,30,35,40], "domainColor": "#8c8c8c", "tickColor": "#8c8c8c", "domainWidth": 2.5, "tickWidth": 2, "tickSize": 10, "labelPadding": 28, "titlePadding": 14, "grid": false}}, "color": {"datum": "Rainfall", "type": "nominal", "scale": {"domain": ["Rainfall"], "range": ["#111111"]}, "legend": {"orient": "none", "legendX": 1192, "legendY": 2409, "title": null, "symbolType": "M-1,-0.17H1V0.17H-1Z", "symbolSize": 11664, "symbolStrokeColor": "#808080", "symbolStrokeWidth": 1.5, "symbolOpacity": 0.7, "labelOffset": 10}}}},
{"layer": [
{"data": {"name": "tb"}, "mark": {"type": "line", "strokeWidth": 3.5, "color": "#262626"}, "encoding": {"y": {"field": "hi", "type": "quantitative", "scale": {"domain": [0,40], "nice": false}, "axis": {"orient": "left", "title": "Temperature (°C)", "values": [0,5,10,15,20,25,30,35,40], "domainColor": "#262626", "tickColor": "#262626", "domainWidth": 2, "tickWidth": 2, "tickSize": 10, "labelPadding": 28, "titlePadding": 10, "grid": false}}, "strokeDash": {"datum": "Max Temp", "type": "nominal", "scale": {"domain": ["Max Temp","Min Temp"], "range": [[1,0],[3,2]]}, "legend": {"orient": "none", "legendX": 1565, "legendY": 2409, "title": null, "direction": "horizontal", "symbolType": "stroke", "symbolSize": 11664, "symbolStrokeWidth": 6, "symbolStrokeColor": "#262626", "columnPadding": 108, "labelOffset": 10}}}},
{"data": {"name": "tb"}, "mark": {"type": "line", "strokeWidth": 3, "color": "#2e2e2e"}, "encoding": {"y": {"field": "lo", "type": "quantitative", "scale": {"domain": [0,40], "nice": false}, "axis": {"orient": "left", "title": "Temperature (°C)", "values": [0,5,10,15,20,25,30,35,40], "domainColor": "#262626", "tickColor": "#262626", "domainWidth": 2, "tickWidth": 2, "tickSize": 10, "labelPadding": 28, "titlePadding": 10, "grid": false}}, "strokeDash": {"datum": "Min Temp", "type": "nominal", "scale": {"domain": ["Max Temp","Min Temp"], "range": [[1,0],[3,2]]}, "legend": {"orient": "none", "legendX": 1565, "legendY": 2409, "title": null, "direction": "horizontal", "symbolType": "stroke", "symbolSize": 11664, "symbolStrokeWidth": 6, "symbolStrokeColor": "#262626", "columnPadding": 108, "labelOffset": 10}}}},
{"data": {"name": "ev"}, "transform": [{"filter": "datum.p === 'b'"}], "mark": {"type": "point", "filled": true, "size": 1800, "stroke": "#404040", "strokeWidth": 2, "opacity": 1}, "encoding": {"y": {"datum": -0.95, "type": "quantitative", "scale": {"domain": [0,40], "nice": false}, "axis": {"orient": "left", "title": "Temperature (°C)", "values": [0,5,10,15,20,25,30,35,40], "domainColor": "#262626", "tickColor": "#262626", "domainWidth": 2, "tickWidth": 2, "tickSize": 10, "labelPadding": 28, "titlePadding": 10, "grid": false}}, "shape": {"field": "ev", "type": "nominal", "scale": {"domain": ["Early seeding","Late seeding","First harvest","Second harvest"], "range": ["triangle-up","diamond","circle","M-0.6,-1L0.6,-1L1,-0.6L1,0.6L0.6,1L-0.6,1L-1,0.6L-1,-0.6Z"]}, "legend": {"orient": "none", "legendX": 1042, "legendY": 2522, "title": null, "direction": "horizontal", "symbolSize": 1300, "symbolStrokeColor": "#404040", "symbolStrokeWidth": 2, "columnPadding": 100, "labelOffset": 8}}, "fill": {"field": "ev", "type": "nominal", "scale": {"domain": ["Early seeding","Late seeding","First harvest","Second harvest"], "range": ["#a6a6a6","#a6a6a6","#000000","#bfbfbf"]}, "legend": {"orient": "none", "legendX": 1042, "legendY": 2522, "title": null, "direction": "horizontal", "symbolSize": 1300, "symbolStrokeColor": "#404040", "symbolStrokeWidth": 2, "columnPadding": 100, "labelOffset": 8}}}}
]}
],
"resolve": {"scale": {"y": "independent"}}
}
], "spacing": 103},
{"hconcat": [
{
"title": {"text": "c) Fargo - 2018"},
"width": 1475, "height": 930,
"encoding": {"x": {"field": "d", "type": "quantitative", "scale": {"domain": [0,150], "nice": false, "zero": false}, "axis": {"values": [0,10,20,30,40,50,60,70,80,90,100,110,120,130,140,150], "labelExpr": "['10-May','20-May','30-May','9-Jun','19-Jun','29-Jun','9-Jul','19-Jul','29-Jul','8-Aug','18-Aug','28-Aug','7-Sep','17-Sep','27-Sep','7-Oct'][round(datum.value/10)]", "labelAngle": -45, "labelAlign": "right", "labelBaseline": "middle", "labelPadding": 40, "labelFontSize": 40, "labelOverlap": false, "labelFlush": false, "title": null, "domainColor": "#a6a6a6", "domainWidth": 4, "tickColor": "#a6a6a6", "tickWidth": 2, "tickSize": 12, "grid": false}}},
"layer": [
{"data": {"name": "rc"}, "mark": {"type": "bar", "width": 4.5}, "encoding": {"y": {"field": "mm", "type": "quantitative", "scale": {"domain": [0,50], "nice": false}, "axis": {"orient": "right", "title": "Rainfall (mm)", "titleAngle": -90, "titleBaseline": "top", "values": [0,5,10,15,20,25,30,35,40,45,50], "domainColor": "#8c8c8c", "tickColor": "#8c8c8c", "domainWidth": 2.5, "tickWidth": 2, "tickSize": 10, "labelPadding": 28, "titlePadding": 14, "grid": false}}, "color": {"datum": "Rainfall", "type": "nominal", "scale": {"domain": ["Rainfall"], "range": ["#111111"]}, "legend": {"orient": "none", "legendX": 1192, "legendY": 2409, "title": null, "symbolType": "M-1,-0.17H1V0.17H-1Z", "symbolSize": 11664, "symbolStrokeColor": "#808080", "symbolStrokeWidth": 1.5, "symbolOpacity": 0.7, "labelOffset": 10}}}},
{"layer": [
{"data": {"name": "tc"}, "mark": {"type": "line", "strokeWidth": 3.5, "color": "#262626"}, "encoding": {"y": {"field": "hi", "type": "quantitative", "scale": {"domain": [0,40], "nice": false}, "axis": {"orient": "left", "title": "Temperature (°C)", "values": [0,5,10,15,20,25,30,35,40], "domainColor": "#262626", "tickColor": "#262626", "domainWidth": 2, "tickWidth": 2, "tickSize": 10, "labelPadding": 28, "titlePadding": 10, "grid": false}}, "strokeDash": {"datum": "Max Temp", "type": "nominal", "scale": {"domain": ["Max Temp","Min Temp"], "range": [[1,0],[3,2]]}, "legend": {"orient": "none", "legendX": 1565, "legendY": 2409, "title": null, "direction": "horizontal", "symbolType": "stroke", "symbolSize": 11664, "symbolStrokeWidth": 6, "symbolStrokeColor": "#262626", "columnPadding": 108, "labelOffset": 10}}}},
{"data": {"name": "tc"}, "mark": {"type": "line", "strokeWidth": 3, "color": "#2e2e2e"}, "encoding": {"y": {"field": "lo", "type": "quantitative", "scale": {"domain": [0,40], "nice": false}, "axis": {"orient": "left", "title": "Temperature (°C)", "values": [0,5,10,15,20,25,30,35,40], "domainColor": "#262626", "tickColor": "#262626", "domainWidth": 2, "tickWidth": 2, "tickSize": 10, "labelPadding": 28, "titlePadding": 10, "grid": false}}, "strokeDash": {"datum": "Min Temp", "type": "nominal", "scale": {"domain": ["Max Temp","Min Temp"], "range": [[1,0],[3,2]]}, "legend": {"orient": "none", "legendX": 1565, "legendY": 2409, "title": null, "direction": "horizontal", "symbolType": "stroke", "symbolSize": 11664, "symbolStrokeWidth": 6, "symbolStrokeColor": "#262626", "columnPadding": 108, "labelOffset": 10}}}},
{"data": {"name": "ev"}, "transform": [{"filter": "datum.p === 'c'"}], "mark": {"type": "point", "filled": true, "size": 1800, "stroke": "#404040", "strokeWidth": 2, "opacity": 1}, "encoding": {"y": {"datum": -0.95, "type": "quantitative", "scale": {"domain": [0,40], "nice": false}, "axis": {"orient": "left", "title": "Temperature (°C)", "values": [0,5,10,15,20,25,30,35,40], "domainColor": "#262626", "tickColor": "#262626", "domainWidth": 2, "tickWidth": 2, "tickSize": 10, "labelPadding": 28, "titlePadding": 10, "grid": false}}, "shape": {"field": "ev", "type": "nominal", "scale": {"domain": ["Early seeding","Late seeding","First harvest","Second harvest"], "range": ["triangle-up","diamond","circle","M-0.6,-1L0.6,-1L1,-0.6L1,0.6L0.6,1L-0.6,1L-1,0.6L-1,-0.6Z"]}, "legend": {"orient": "none", "legendX": 1042, "legendY": 2522, "title": null, "direction": "horizontal", "symbolSize": 1300, "symbolStrokeColor": "#404040", "symbolStrokeWidth": 2, "columnPadding": 100, "labelOffset": 8}}, "fill": {"field": "ev", "type": "nominal", "scale": {"domain": ["Early seeding","Late seeding","First harvest","Second harvest"], "range": ["#a6a6a6","#a6a6a6","#000000","#bfbfbf"]}, "legend": {"orient": "none", "legendX": 1042, "legendY": 2522, "title": null, "direction": "horizontal", "symbolSize": 1300, "symbolStrokeColor": "#404040", "symbolStrokeWidth": 2, "columnPadding": 100, "labelOffset": 8}}}}
]}
],
"resolve": {"scale": {"y": "independent"}}
},
{
"title": {"text": "d) Hickson - 2018"},
"width": 1475, "height": 930,
"encoding": {"x": {"field": "d", "type": "quantitative", "scale": {"domain": [0,150], "nice": false, "zero": false}, "axis": {"values": [0,10,20,30,40,50,60,70,80,90,100,110,120,130,140,150], "labelExpr": "['10-May','20-May','30-May','9-Jun','19-Jun','29-Jun','9-Jul','19-Jul','29-Jul','8-Aug','18-Aug','28-Aug','7-Sep','17-Sep','27-Sep','7-Oct'][round(datum.value/10)]", "labelAngle": -45, "labelAlign": "right", "labelBaseline": "middle", "labelPadding": 40, "labelFontSize": 40, "labelOverlap": false, "labelFlush": false, "title": null, "domainColor": "#a6a6a6", "domainWidth": 4, "tickColor": "#a6a6a6", "tickWidth": 2, "tickSize": 12, "grid": false}}},
"layer": [
{"data": {"name": "rd"}, "mark": {"type": "bar", "width": 4.5}, "encoding": {"y": {"field": "mm", "type": "quantitative", "scale": {"domain": [0,60], "nice": false}, "axis": {"orient": "right", "title": "Rainfall (mm)", "titleAngle": -90, "titleBaseline": "top", "values": [0,10,20,30,40,50,60], "domainColor": "#8c8c8c", "tickColor": "#8c8c8c", "domainWidth": 2.5, "tickWidth": 2, "tickSize": 10, "labelPadding": 28, "titlePadding": 14, "grid": false}}, "color": {"datum": "Rainfall", "type": "nominal", "scale": {"domain": ["Rainfall"], "range": ["#111111"]}, "legend": {"orient": "none", "legendX": 1192, "legendY": 2409, "title": null, "symbolType": "M-1,-0.17H1V0.17H-1Z", "symbolSize": 11664, "symbolStrokeColor": "#808080", "symbolStrokeWidth": 1.5, "symbolOpacity": 0.7, "labelOffset": 10}}}},
{"layer": [
{"data": {"name": "td"}, "mark": {"type": "line", "strokeWidth": 3.5, "color": "#262626"}, "encoding": {"y": {"field": "hi", "type": "quantitative", "scale": {"domain": [0,40], "nice": false}, "axis": {"orient": "left", "title": "Temperature (°C)", "values": [0,5,10,15,20,25,30,35,40], "domainColor": "#262626", "tickColor": "#262626", "domainWidth": 2, "tickWidth": 2, "tickSize": 10, "labelPadding": 28, "titlePadding": 10, "grid": false}}, "strokeDash": {"datum": "Max Temp", "type": "nominal", "scale": {"domain": ["Max Temp","Min Temp"], "range": [[1,0],[3,2]]}, "legend": {"orient": "none", "legendX": 1565, "legendY": 2409, "title": null, "direction": "horizontal", "symbolType": "stroke", "symbolSize": 11664, "symbolStrokeWidth": 6, "symbolStrokeColor": "#262626", "columnPadding": 108, "labelOffset": 10}}}},
{"data": {"name": "td"}, "mark": {"type": "line", "strokeWidth": 3, "color": "#2e2e2e"}, "encoding": {"y": {"field": "lo", "type": "quantitative", "scale": {"domain": [0,40], "nice": false}, "axis": {"orient": "left", "title": "Temperature (°C)", "values": [0,5,10,15,20,25,30,35,40], "domainColor": "#262626", "tickColor": "#262626", "domainWidth": 2, "tickWidth": 2, "tickSize": 10, "labelPadding": 28, "titlePadding": 10, "grid": false}}, "strokeDash": {"datum": "Min Temp", "type": "nominal", "scale": {"domain": ["Max Temp","Min Temp"], "range": [[1,0],[3,2]]}, "legend": {"orient": "none", "legendX": 1565, "legendY": 2409, "title": null, "direction": "horizontal", "symbolType": "stroke", "symbolSize": 11664, "symbolStrokeWidth": 6, "symbolStrokeColor": "#262626", "columnPadding": 108, "labelOffset": 10}}}},
{"data": {"name": "ev"}, "transform": [{"filter": "datum.p === 'd'"}], "mark": {"type": "point", "filled": true, "size": 1800, "stroke": "#404040", "strokeWidth": 2, "opacity": 1}, "encoding": {"y": {"datum": -0.95, "type": "quantitative", "scale": {"domain": [0,40], "nice": false}, "axis": {"orient": "left", "title": "Temperature (°C)", "values": [0,5,10,15,20,25,30,35,40], "domainColor": "#262626", "tickColor": "#262626", "domainWidth": 2, "tickWidth": 2, "tickSize": 10, "labelPadding": 28, "titlePadding": 10, "grid": false}}, "shape": {"field": "ev", "type": "nominal", "scale": {"domain": ["Early seeding","Late seeding","First harvest","Second harvest"], "range": ["triangle-up","diamond","circle","M-0.6,-1L0.6,-1L1,-0.6L1,0.6L0.6,1L-0.6,1L-1,0.6L-1,-0.6Z"]}, "legend": {"orient": "none", "legendX": 1042, "legendY": 2522, "title": null, "direction": "horizontal", "symbolSize": 1300, "symbolStrokeColor": "#404040", "symbolStrokeWidth": 2, "columnPadding": 100, "labelOffset": 8}}, "fill": {"field": "ev", "type": "nominal", "scale": {"domain": ["Early seeding","Late seeding","First harvest","Second harvest"], "range": ["#a6a6a6","#a6a6a6","#000000","#bfbfbf"]}, "legend": {"orient": "none", "legendX": 1042, "legendY": 2522, "title": null, "direction": "horizontal", "symbolSize": 1300, "symbolStrokeColor": "#404040", "symbolStrokeWidth": 2, "columnPadding": 100, "labelOffset": 8}}}}
]}
],
"resolve": {"scale": {"y": "independent"}}
}
], "spacing": 103}
],
"spacing": 76,
"config": {
"font": "Liberation Serif",
"view": {"stroke": null},
"axis": {"labelFont": "Liberation Serif", "titleFont": "Liberation Serif", "labelFontSize": 42, "titleFontSize": 44, "titleFontWeight": "normal", "labelColor": "#000000", "titleColor": "#000000", "grid": false},
"title": {"font": "Liberation Serif", "fontSize": 54, "fontWeight": "normal", "anchor": "middle", "frame": "group", "offset": 14, "dx": -36, "color": "#000000"},
"legend": {"labelFont": "Liberation Serif", "labelFontSize": 40, "labelColor": "#000000", "labelLimit": 600}
}
}
